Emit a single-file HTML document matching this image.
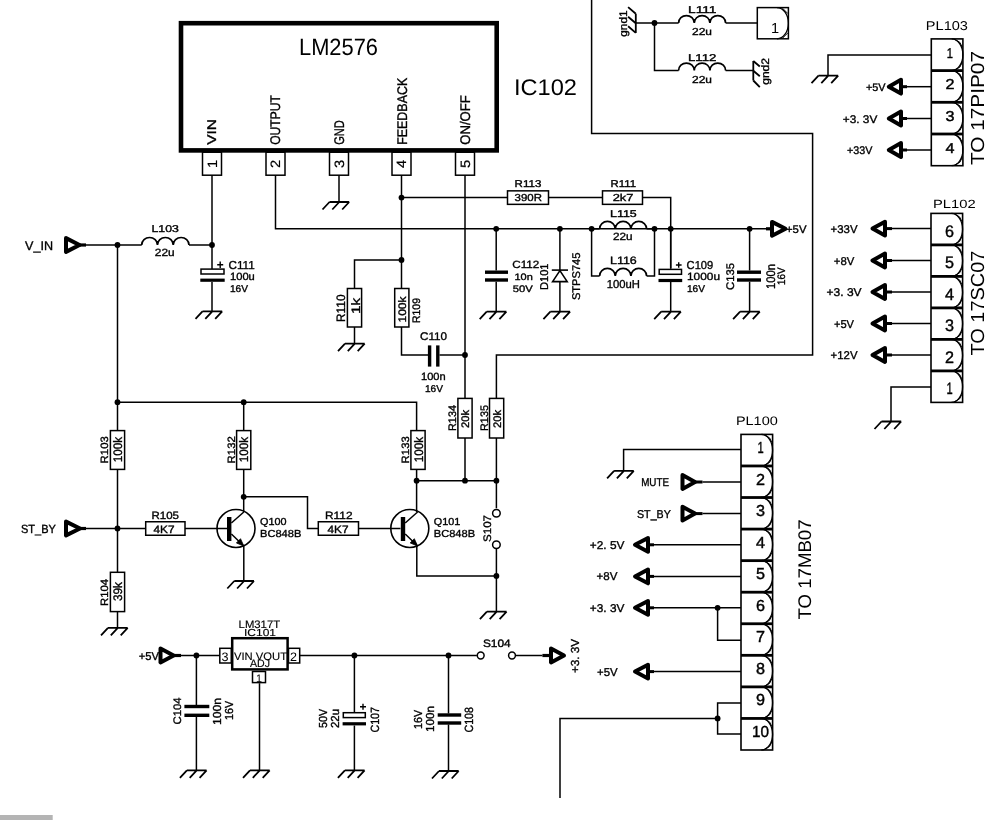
<!DOCTYPE html>
<html><head><meta charset="utf-8"><style>
html,body{margin:0;padding:0;background:#fff;}
body{width:998px;height:820px;overflow:hidden;}
svg{display:block;filter:grayscale(1);}
svg text{font-family:"Liberation Sans",sans-serif;fill:#000;text-rendering:geometricPrecision;}
</style></head><body>
<svg width="998" height="820" viewBox="0 0 998 820" stroke="#000" fill="none" stroke-linecap="butt">
<rect x="0" y="0" width="998" height="820" fill="#fff" stroke="none"/>
<rect x="181" y="23.2" width="315.7" height="127.2" stroke-width="4.6" fill="none"/>
<text x="299" y="55.1" font-size="23.55" textLength="79" lengthAdjust="spacingAndGlyphs" stroke="none" fill="#3a3a3a" text-anchor="start">LM2576</text>
<text x="514" y="94.8" font-size="22.67" textLength="63" lengthAdjust="spacingAndGlyphs" stroke="none" fill="#3a3a3a" text-anchor="start">IC102</text>
<rect x="202.5" y="152.2" width="19" height="23" stroke-width="1.5" fill="none"/>
<text transform="translate(216.8,167.9) rotate(-90)" x="0" y="0" font-size="13.52" textLength="8.2" lengthAdjust="spacingAndGlyphs" stroke="#000" stroke-width="0.2">1</text>
<rect x="266" y="152.2" width="19" height="23" stroke-width="1.5" fill="none"/>
<text transform="translate(280.3,167.9) rotate(-90)" x="0" y="0" font-size="13.52" textLength="8.2" lengthAdjust="spacingAndGlyphs" stroke="#000" stroke-width="0.2">2</text>
<rect x="329.5" y="152.2" width="19" height="23" stroke-width="1.5" fill="none"/>
<text transform="translate(343.8,167.9) rotate(-90)" x="0" y="0" font-size="13.52" textLength="8.2" lengthAdjust="spacingAndGlyphs" stroke="#000" stroke-width="0.2">3</text>
<rect x="392" y="152.2" width="19" height="23" stroke-width="1.5" fill="none"/>
<text transform="translate(406.3,167.9) rotate(-90)" x="0" y="0" font-size="13.52" textLength="8.2" lengthAdjust="spacingAndGlyphs" stroke="#000" stroke-width="0.2">4</text>
<rect x="455.5" y="152.2" width="19" height="23" stroke-width="1.5" fill="none"/>
<text transform="translate(469.8,167.9) rotate(-90)" x="0" y="0" font-size="13.52" textLength="8.2" lengthAdjust="spacingAndGlyphs" stroke="#000" stroke-width="0.2">5</text>
<text transform="translate(216.3,144.8) rotate(-90)" x="0" y="0" font-size="12.65" textLength="25.8" lengthAdjust="spacingAndGlyphs" stroke="#000" stroke-width="0.35">VIN</text>
<text transform="translate(280,144.8) rotate(-90)" x="0" y="0" font-size="13.95" textLength="49.6" lengthAdjust="spacingAndGlyphs" stroke="#000" stroke-width="0.35">OUTPUT</text>
<text transform="translate(344,144.8) rotate(-90)" x="0" y="0" font-size="13.95" textLength="24.6" lengthAdjust="spacingAndGlyphs" stroke="#000" stroke-width="0.35">GND</text>
<text transform="translate(407,144.8) rotate(-90)" x="0" y="0" font-size="13.95" textLength="67" lengthAdjust="spacingAndGlyphs" stroke="#000" stroke-width="0.35">FEEDBACK</text>
<text transform="translate(470.4,144.8) rotate(-90)" x="0" y="0" font-size="13.95" textLength="49.6" lengthAdjust="spacingAndGlyphs" stroke="#000" stroke-width="0.35">ON/OFF</text>
<line x1="212" y1="175.2" x2="212" y2="269" stroke-width="1.5"/>
<text x="25" y="249.5" font-size="12.35" textLength="28" lengthAdjust="spacingAndGlyphs" stroke="#000" stroke-width="0.35" text-anchor="start">V_IN</text>
<path d="M66,238.1 L79.5,245 L66,251.9 Z" stroke-width="4" fill="none" stroke-linejoin="round"/>
<line x1="79.5" y1="245" x2="86" y2="245" stroke-width="3.2"/>
<line x1="86" y1="245" x2="141.7" y2="245" stroke-width="1.5"/>
<circle cx="117.5" cy="245" r="2.9" fill="#000" stroke="none"/>
<path d="M141.7,245 A7.88,7.49 0 0 1 157.47,245 A7.88,7.49 0 0 1 173.23,245 A7.88,7.49 0 0 1 189,245" stroke-width="1.7" fill="none" />
<line x1="189" y1="245" x2="212" y2="245" stroke-width="1.5"/>
<circle cx="212" cy="245" r="2.9" fill="#000" stroke="none"/>
<text x="151.5" y="232" font-size="9.88" textLength="27.3" lengthAdjust="spacingAndGlyphs" stroke="#000" stroke-width="0.35" text-anchor="start">L103</text>
<text x="154.8" y="256.3" font-size="10.47" textLength="19.8" lengthAdjust="spacingAndGlyphs" stroke="#000" stroke-width="0.35" text-anchor="start">22u</text>
<rect x="201" y="269.1" width="23" height="4.9" stroke-width="1.5" fill="#fff"/>
<rect x="200.3" y="278.6" width="24.4" height="3.2" fill="#000" stroke="none"/>
<path d="M217.2,264.8 H223.2 M220.2,261.6 V268" stroke-width="1.4" fill="none" />
<line x1="212" y1="281.9" x2="212" y2="311.3" stroke-width="1.5"/>
<path d="M202.5,311.3 H222.2 M202.5,311.3 l-7,7.5 M212.3,311.3 l-7,7.5 M222.2,311.3 l-7,7.5" stroke-width="1.8" fill="none" />
<text x="228.5" y="268.7" font-size="11.48" textLength="26.3" lengthAdjust="spacingAndGlyphs" stroke="#000" stroke-width="0.35" text-anchor="start">C111</text>
<text x="230" y="280" font-size="10.47" textLength="24.8" lengthAdjust="spacingAndGlyphs" stroke="#000" stroke-width="0.35" text-anchor="start">100u</text>
<text x="230" y="292.4" font-size="9.88" textLength="18" lengthAdjust="spacingAndGlyphs" stroke="#000" stroke-width="0.35" text-anchor="start">16V</text>
<polyline points="275.5,175.2 275.5,228.8 766,228.8" stroke-width="1.5"/>
<line x1="766" y1="228.8" x2="772" y2="228.8" stroke-width="3.2"/>
<path d="M772,221.9 L785.5,228.8 L772,235.7 Z" stroke-width="4" fill="none" stroke-linejoin="round"/>
<text x="786" y="233" font-size="10.9" textLength="20.5" lengthAdjust="spacingAndGlyphs" stroke="#000" stroke-width="0.35" text-anchor="start">+5V</text>
<circle cx="496.2" cy="228.8" r="2.9" fill="#000" stroke="none"/>
<circle cx="559.9" cy="228.8" r="2.9" fill="#000" stroke="none"/>
<circle cx="591.6" cy="228.8" r="2.9" fill="#000" stroke="none"/>
<circle cx="654.5" cy="228.8" r="2.9" fill="#000" stroke="none"/>
<circle cx="670.7" cy="228.8" r="2.9" fill="#000" stroke="none"/>
<circle cx="749.6" cy="228.8" r="2.9" fill="#000" stroke="none"/>
<line x1="339" y1="175.2" x2="339" y2="202" stroke-width="1.5"/>
<path d="M329.5,202 H349.2 M329.5,202 l-7,7.5 M339.3,202 l-7,7.5 M349.2,202 l-7,7.5" stroke-width="1.8" fill="none" />
<line x1="401.5" y1="175.2" x2="401.5" y2="288.5" stroke-width="1.5"/>
<circle cx="401.5" cy="197.6" r="2.9" fill="#000" stroke="none"/>
<polyline points="401.5,197.6 507.5,197.6" stroke-width="1.5"/>
<rect x="507.5" y="190.85" width="41" height="13.5" stroke-width="1.5" fill="none"/>
<text x="514.6" y="186.5" font-size="9.88" textLength="26.7" lengthAdjust="spacingAndGlyphs" stroke="#000" stroke-width="0.35" text-anchor="start">R113</text>
<text x="514.6" y="201" font-size="10.17" textLength="27.4" lengthAdjust="spacingAndGlyphs" stroke="#000" stroke-width="0.35" text-anchor="start">390R</text>
<line x1="548.5" y1="197.6" x2="602.5" y2="197.6" stroke-width="1.5"/>
<rect x="602.5" y="190.85" width="40" height="13.5" stroke-width="1.5" fill="none"/>
<text x="610.5" y="186.5" font-size="9.88" textLength="25.5" lengthAdjust="spacingAndGlyphs" stroke="#000" stroke-width="0.35" text-anchor="start">R111</text>
<text x="612.7" y="201" font-size="10.17" textLength="20.8" lengthAdjust="spacingAndGlyphs" stroke="#000" stroke-width="0.35" text-anchor="start">2k7</text>
<polyline points="642.5,197.6 670.7,197.6 670.7,268.4" stroke-width="1.5"/>
<circle cx="401.5" cy="260" r="2.9" fill="#000" stroke="none"/>
<polyline points="401.5,260 354.5,260 354.5,288.5" stroke-width="1.5"/>
<rect x="347.4" y="288.5" width="14.2" height="38.5" stroke-width="1.5" fill="none"/>
<text transform="translate(345.2,322) rotate(-90)" x="0" y="0" font-size="12.21" textLength="27.5" lengthAdjust="spacingAndGlyphs" stroke="#000" stroke-width="0.35">R110</text>
<text transform="translate(360.2,314) rotate(-90)" x="0" y="0" font-size="12.21" textLength="16" lengthAdjust="spacingAndGlyphs" stroke="#000" stroke-width="0.35">1k</text>
<line x1="354.5" y1="327" x2="354.5" y2="343.6" stroke-width="1.5"/>
<path d="M345,343.6 H364.7 M345,343.6 l-7,7.5 M354.8,343.6 l-7,7.5 M364.7,343.6 l-7,7.5" stroke-width="1.8" fill="none" />
<rect x="394.7" y="288.5" width="14.2" height="38.5" stroke-width="1.5" fill="none"/>
<text transform="translate(405.5,322.5) rotate(-90)" x="0" y="0" font-size="10.9" textLength="26" lengthAdjust="spacingAndGlyphs" stroke="#000" stroke-width="0.35">100k</text>
<text transform="translate(420,323) rotate(-90)" x="0" y="0" font-size="10.9" textLength="25" lengthAdjust="spacingAndGlyphs" stroke="#000" stroke-width="0.35">R109</text>
<polyline points="401.5,327 401.5,355 429.6,355" stroke-width="1.5"/>
<rect x="427.9" y="345.4" width="3.4" height="21.2" fill="#000" stroke="none"/>
<rect x="436.1" y="345.4" width="3.4" height="21.2" fill="#000" stroke="none"/>
<polyline points="439.5,355 465,355" stroke-width="1.5"/>
<text x="420" y="340" font-size="11.05" textLength="27" lengthAdjust="spacingAndGlyphs" stroke="#000" stroke-width="0.35" text-anchor="start">C110</text>
<text x="421" y="380" font-size="10.47" textLength="24.6" lengthAdjust="spacingAndGlyphs" stroke="#000" stroke-width="0.35" text-anchor="start">100n</text>
<text x="425" y="392" font-size="9.88" textLength="18" lengthAdjust="spacingAndGlyphs" stroke="#000" stroke-width="0.35" text-anchor="start">16V</text>
<line x1="465" y1="175.2" x2="465" y2="398.4" stroke-width="1.5"/>
<circle cx="465" cy="355" r="2.9" fill="#000" stroke="none"/>
<rect x="457.9" y="398.4" width="14.2" height="39.6" stroke-width="1.5" fill="none"/>
<text transform="translate(469,428) rotate(-90)" x="0" y="0" font-size="10.9" textLength="18" lengthAdjust="spacingAndGlyphs" stroke="#000" stroke-width="0.35">20k</text>
<text transform="translate(456,431) rotate(-90)" x="0" y="0" font-size="10.9" textLength="26" lengthAdjust="spacingAndGlyphs" stroke="#000" stroke-width="0.35">R134</text>
<line x1="465" y1="438" x2="465" y2="480.7" stroke-width="1.5"/>
<polyline points="591.6,0 591.6,133.6 812.6,133.6 812.6,355 496.4,355 496.4,398.4" stroke-width="1.5"/>
<rect x="489.5" y="398.4" width="14.2" height="39.6" stroke-width="1.5" fill="none"/>
<text transform="translate(500.5,428) rotate(-90)" x="0" y="0" font-size="10.9" textLength="18" lengthAdjust="spacingAndGlyphs" stroke="#000" stroke-width="0.35">20k</text>
<text transform="translate(487.5,431) rotate(-90)" x="0" y="0" font-size="10.9" textLength="26" lengthAdjust="spacingAndGlyphs" stroke="#000" stroke-width="0.35">R135</text>
<line x1="496.4" y1="438" x2="496.4" y2="508.3" stroke-width="1.5"/>
<line x1="496.2" y1="228.8" x2="496.2" y2="270.5" stroke-width="1.5"/>
<line x1="496.2" y1="281.7" x2="496.2" y2="311.6" stroke-width="1.5"/>
<rect x="485" y="270.5" width="23" height="3.4" fill="#000" stroke="none"/>
<rect x="485" y="278.3" width="23" height="3.4" fill="#000" stroke="none"/>
<path d="M486.7,311.6 H506.4 M486.7,311.6 l-7,7.5 M496.5,311.6 l-7,7.5 M506.4,311.6 l-7,7.5" stroke-width="1.8" fill="none" />
<text x="512.3" y="268.4" font-size="10.47" textLength="27" lengthAdjust="spacingAndGlyphs" stroke="#000" stroke-width="0.35" text-anchor="start">C112</text>
<text x="514.5" y="280" font-size="9.3" textLength="18.3" lengthAdjust="spacingAndGlyphs" stroke="#000" stroke-width="0.35" text-anchor="start">10n</text>
<text x="512.8" y="291.7" font-size="9.59" textLength="20" lengthAdjust="spacingAndGlyphs" stroke="#000" stroke-width="0.35" text-anchor="start">50V</text>
<line x1="559.9" y1="228.8" x2="559.9" y2="311.6" stroke-width="1.5"/>
<line x1="551.8" y1="270.1" x2="568" y2="270.1" stroke-width="1.6"/>
<path d="M559.9,270.6 L552.6,281.6 L567.2,281.6 Z" stroke-width="1.6" fill="#fff" />
<path d="M550.4,311.6 H570.1 M550.4,311.6 l-7,7.5 M560.2,311.6 l-7,7.5 M570.1,311.6 l-7,7.5" stroke-width="1.8" fill="none" />
<text transform="translate(548.2,289.9) rotate(-90)" x="0" y="0" font-size="11.34" textLength="26.4" lengthAdjust="spacingAndGlyphs" stroke="#000" stroke-width="0.35">D101</text>
<text transform="translate(580,300.1) rotate(-90)" x="0" y="0" font-size="11.19" textLength="47.5" lengthAdjust="spacingAndGlyphs" stroke="#000" stroke-width="0.35">STPS745</text>
<path d="M599.6,228.8 A7.83,7.44 0 0 1 615.27,228.8 A7.83,7.44 0 0 1 630.93,228.8 A7.83,7.44 0 0 1 646.6,228.8" stroke-width="1.7" fill="none" />
<line x1="591.6" y1="228.8" x2="599.6" y2="228.8" stroke-width="1.5"/>
<line x1="646.6" y1="228.8" x2="654.5" y2="228.8" stroke-width="1.5"/>
<polyline points="591.6,228.8 591.6,275.9 599.6,275.9" stroke-width="1.5"/>
<path d="M599.6,275.9 A7.83,7.44 0 0 1 615.27,275.9 A7.83,7.44 0 0 1 630.93,275.9 A7.83,7.44 0 0 1 646.6,275.9" stroke-width="1.7" fill="none" />
<polyline points="646.6,275.9 654.5,275.9 654.5,228.8" stroke-width="1.5"/>
<text x="610" y="216.5" font-size="9.74" textLength="26.8" lengthAdjust="spacingAndGlyphs" stroke="#000" stroke-width="0.35" text-anchor="start">L115</text>
<text x="613" y="240.2" font-size="10.47" textLength="19.6" lengthAdjust="spacingAndGlyphs" stroke="#000" stroke-width="0.35" text-anchor="start">22u</text>
<text x="610" y="264" font-size="10.61" textLength="26.8" lengthAdjust="spacingAndGlyphs" stroke="#000" stroke-width="0.35" text-anchor="start">L116</text>
<text x="606.7" y="287.8" font-size="11.48" textLength="33.2" lengthAdjust="spacingAndGlyphs" stroke="#000" stroke-width="0.35" text-anchor="start">100uH</text>
<line x1="670.7" y1="228.8" x2="670.7" y2="268.7" stroke-width="1.5"/>
<rect x="659.2" y="269.4" width="22.3" height="4.9" stroke-width="1.5" fill="#fff"/>
<rect x="658.5" y="278.9" width="23.7" height="3.2" fill="#000" stroke="none"/>
<path d="M675.9,265 H681.6 M678.7,262.2 V267.8" stroke-width="1.4" fill="none" />
<line x1="670.7" y1="282" x2="670.7" y2="311.6" stroke-width="1.5"/>
<path d="M661.2,311.6 H680.9 M661.2,311.6 l-7,7.5 M671,311.6 l-7,7.5 M680.9,311.6 l-7,7.5" stroke-width="1.8" fill="none" />
<text x="686.6" y="268.7" font-size="11.48" textLength="26.6" lengthAdjust="spacingAndGlyphs" stroke="#000" stroke-width="0.35" text-anchor="start">C109</text>
<text x="687" y="280" font-size="10.47" textLength="33" lengthAdjust="spacingAndGlyphs" stroke="#000" stroke-width="0.35" text-anchor="start">1000u</text>
<text x="687" y="292" font-size="9.88" textLength="18" lengthAdjust="spacingAndGlyphs" stroke="#000" stroke-width="0.35" text-anchor="start">16V</text>
<line x1="749.6" y1="228.8" x2="749.6" y2="270.5" stroke-width="1.5"/>
<line x1="749.6" y1="281.7" x2="749.6" y2="311.6" stroke-width="1.5"/>
<rect x="737" y="270.5" width="24" height="3.4" fill="#000" stroke="none"/>
<rect x="737" y="278.3" width="24" height="3.4" fill="#000" stroke="none"/>
<path d="M740.1,311.6 H759.8 M740.1,311.6 l-7,7.5 M749.9,311.6 l-7,7.5 M759.8,311.6 l-7,7.5" stroke-width="1.8" fill="none" />
<text transform="translate(734,290) rotate(-90)" x="0" y="0" font-size="11.05" textLength="27" lengthAdjust="spacingAndGlyphs" stroke="#000" stroke-width="0.35">C135</text>
<text transform="translate(775.2,289) rotate(-90)" x="0" y="0" font-size="12.5" textLength="25" lengthAdjust="spacingAndGlyphs" stroke="#000" stroke-width="0.35">100n</text>
<text transform="translate(785.2,285) rotate(-90)" x="0" y="0" font-size="10.9" textLength="17.5" lengthAdjust="spacingAndGlyphs" stroke="#000" stroke-width="0.35">16V</text>
<line x1="635.8" y1="13.7" x2="635.8" y2="32.9" stroke-width="1.8"/>
<path d="M635.8,13.7 l-7.7,-6.6 M635.8,23.3 l-7.7,-6.6 M635.8,32.9 l-7.7,-6.6" stroke-width="1.8" fill="none" />
<text transform="translate(626.5,36.8) rotate(-90)" x="0" y="0" font-size="10.9" textLength="26.4" lengthAdjust="spacingAndGlyphs" stroke="#000" stroke-width="0.35">gnd1</text>
<polyline points="635.8,23 678.6,23" stroke-width="1.5"/>
<circle cx="654.5" cy="23" r="2.9" fill="#000" stroke="none"/>
<path d="M678.6,23 A7.83,7.44 0 0 1 694.27,23 A7.83,7.44 0 0 1 709.93,23 A7.83,7.44 0 0 1 725.6,23" stroke-width="1.7" fill="none" />
<polyline points="725.6,23 757.3,23" stroke-width="1.5"/>
<text x="688" y="13" font-size="9.88" textLength="28.5" lengthAdjust="spacingAndGlyphs" stroke="#000" stroke-width="0.35" text-anchor="start">L111</text>
<text x="692" y="35" font-size="10.17" textLength="20" lengthAdjust="spacingAndGlyphs" stroke="#000" stroke-width="0.35" text-anchor="start">22u</text>
<polyline points="654.5,23 654.5,70.5 678.6,70.5" stroke-width="1.5"/>
<path d="M678.6,70.5 A7.83,7.44 0 0 1 694.27,70.5 A7.83,7.44 0 0 1 709.93,70.5 A7.83,7.44 0 0 1 725.6,70.5" stroke-width="1.7" fill="none" />
<polyline points="725.6,70.5 753.3,70.5" stroke-width="1.5"/>
<text x="688" y="60.5" font-size="9.88" textLength="28.5" lengthAdjust="spacingAndGlyphs" stroke="#000" stroke-width="0.35" text-anchor="start">L112</text>
<text x="692" y="82.5" font-size="10.17" textLength="20" lengthAdjust="spacingAndGlyphs" stroke="#000" stroke-width="0.35" text-anchor="start">22u</text>
<line x1="753.3" y1="61" x2="753.3" y2="80.5" stroke-width="1.8"/>
<path d="M753.3,61 l6.5,5.5 M753.3,70.7 l6.5,5.5 M753.3,80.5 l6.5,6.7" stroke-width="1.8" fill="none" />
<text transform="translate(768.6,84.8) rotate(-90)" x="0" y="0" font-size="10.9" textLength="26.8" lengthAdjust="spacingAndGlyphs" stroke="#000" stroke-width="0.35">gnd2</text>
<rect x="757.3" y="7.6" width="31.1" height="31.2" stroke-width="1.5" fill="none"/>
<path d="M777,7.6 A11.4,15.6 0 0 1 777,38.8" stroke-width="1.3" fill="none" />
<path d="M782.5,8.2 L787.8,13.5 M782.5,38.2 L787.8,32.9" stroke-width="1" fill="none" />
<text x="775" y="32.7" font-size="14.6" text-anchor="middle" stroke="none">1</text>
<rect x="931.3" y="38.9" width="31.6" height="126.8" stroke-width="1.6" fill="none"/>
<line x1="931.3" y1="70.6" x2="962.9" y2="70.6" stroke-width="2.8"/>
<line x1="931.3" y1="102.3" x2="962.9" y2="102.3" stroke-width="2.8"/>
<line x1="931.3" y1="134" x2="962.9" y2="134" stroke-width="2.8"/>
<path d="M951.7,38.9 A11.2,15.85 0 0 1 951.7,70.6" stroke-width="1.3" fill="none" />
<path d="M954.9,39.7 L959.9,42.4 L962.1,46.9 M954.9,69.8 L959.9,67.1 L962.1,62.6" stroke-width="1" fill="none" />
<text x="946.8" y="57.55" font-size="14.24" textLength="6.2" lengthAdjust="spacingAndGlyphs" stroke="#000" stroke-width="0.4">1</text>
<path d="M951.7,70.6 A11.2,15.85 0 0 1 951.7,102.3" stroke-width="1.3" fill="none" />
<path d="M954.9,71.4 L959.9,74.1 L962.1,78.6 M954.9,101.5 L959.9,98.8 L962.1,94.3" stroke-width="1" fill="none" />
<text x="945.4" y="89.25" font-size="14.24" textLength="9" lengthAdjust="spacingAndGlyphs" stroke="#000" stroke-width="0.4">2</text>
<path d="M951.7,102.3 A11.2,15.85 0 0 1 951.7,134" stroke-width="1.3" fill="none" />
<path d="M954.9,103.1 L959.9,105.8 L962.1,110.3 M954.9,133.2 L959.9,130.5 L962.1,126" stroke-width="1" fill="none" />
<text x="945.4" y="120.95" font-size="14.24" textLength="9" lengthAdjust="spacingAndGlyphs" stroke="#000" stroke-width="0.4">3</text>
<path d="M951.7,134 A11.2,15.85 0 0 1 951.7,165.7" stroke-width="1.3" fill="none" />
<path d="M954.9,134.8 L959.9,137.5 L962.1,142 M954.9,164.9 L959.9,162.2 L962.1,157.7" stroke-width="1" fill="none" />
<text x="945.4" y="152.65" font-size="14.24" textLength="9" lengthAdjust="spacingAndGlyphs" stroke="#000" stroke-width="0.4">4</text>
<text x="925.8" y="29.6" font-size="12.79" textLength="42.2" lengthAdjust="spacingAndGlyphs" stroke="none" text-anchor="start">PL103</text>
<text transform="translate(984,165) rotate(-90)" x="0" y="0" font-size="18.9" textLength="114" lengthAdjust="spacingAndGlyphs" stroke="none" fill="#444">TO 17PIP07</text>
<polyline points="931.3,54.9 828,54.9 828,75.7" stroke-width="1.5"/>
<path d="M818.5,75.7 H838.2 M818.5,75.7 l-7,7.5 M828.3,75.7 l-7,7.5 M838.2,75.7 l-7,7.5" stroke-width="1.8" fill="none" />
<path d="M901,79.8 L888.8,86.7 L901,93.6 Z" stroke-width="4" fill="none" stroke-linejoin="round"/>
<line x1="901" y1="86.7" x2="907" y2="86.7" stroke-width="3"/>
<line x1="907" y1="86.7" x2="931.3" y2="86.7" stroke-width="1.5"/>
<text x="866" y="90.7" font-size="11.05" textLength="19.6" lengthAdjust="spacingAndGlyphs" stroke="#000" stroke-width="0.35" text-anchor="start">+5V</text>
<path d="M901,111.6 L888.8,118.5 L901,125.4 Z" stroke-width="4" fill="none" stroke-linejoin="round"/>
<line x1="901" y1="118.5" x2="907" y2="118.5" stroke-width="3"/>
<line x1="907" y1="118.5" x2="931.3" y2="118.5" stroke-width="1.5"/>
<text x="842.8" y="122.5" font-size="11.05" textLength="34.5" lengthAdjust="spacingAndGlyphs" stroke="#000" stroke-width="0.35" text-anchor="start">+3. 3V</text>
<path d="M901,143.1 L888.8,150 L901,156.9 Z" stroke-width="4" fill="none" stroke-linejoin="round"/>
<line x1="901" y1="150" x2="907" y2="150" stroke-width="3"/>
<line x1="907" y1="150" x2="931.3" y2="150" stroke-width="1.5"/>
<text x="847" y="154" font-size="11.05" textLength="25.4" lengthAdjust="spacingAndGlyphs" stroke="#000" stroke-width="0.35" text-anchor="start">+33V</text>
<rect x="931" y="213.4" width="31.6" height="189" stroke-width="1.6" fill="none"/>
<line x1="931" y1="244.9" x2="962.6" y2="244.9" stroke-width="2.8"/>
<line x1="931" y1="276.4" x2="962.6" y2="276.4" stroke-width="2.8"/>
<line x1="931" y1="307.9" x2="962.6" y2="307.9" stroke-width="2.8"/>
<line x1="931" y1="339.4" x2="962.6" y2="339.4" stroke-width="2.8"/>
<line x1="931" y1="370.9" x2="962.6" y2="370.9" stroke-width="2.8"/>
<path d="M951.4,213.4 A11.2,15.75 0 0 1 951.4,244.9" stroke-width="1.3" fill="none" />
<path d="M954.6,214.2 L959.6,216.9 L961.8,221.4 M954.6,244.1 L959.6,241.4 L961.8,236.9" stroke-width="1" fill="none" />
<text x="945.1" y="236.95" font-size="16.57" textLength="9" lengthAdjust="spacingAndGlyphs" stroke="#000" stroke-width="0.4">6</text>
<path d="M951.4,244.9 A11.2,15.75 0 0 1 951.4,276.4" stroke-width="1.3" fill="none" />
<path d="M954.6,245.7 L959.6,248.4 L961.8,252.9 M954.6,275.6 L959.6,272.9 L961.8,268.4" stroke-width="1" fill="none" />
<text x="945.1" y="268.45" font-size="16.57" textLength="9" lengthAdjust="spacingAndGlyphs" stroke="#000" stroke-width="0.4">5</text>
<path d="M951.4,276.4 A11.2,15.75 0 0 1 951.4,307.9" stroke-width="1.3" fill="none" />
<path d="M954.6,277.2 L959.6,279.9 L961.8,284.4 M954.6,307.1 L959.6,304.4 L961.8,299.9" stroke-width="1" fill="none" />
<text x="945.1" y="299.95" font-size="16.57" textLength="9" lengthAdjust="spacingAndGlyphs" stroke="#000" stroke-width="0.4">4</text>
<path d="M951.4,307.9 A11.2,15.75 0 0 1 951.4,339.4" stroke-width="1.3" fill="none" />
<path d="M954.6,308.7 L959.6,311.4 L961.8,315.9 M954.6,338.6 L959.6,335.9 L961.8,331.4" stroke-width="1" fill="none" />
<text x="945.1" y="331.45" font-size="16.57" textLength="9" lengthAdjust="spacingAndGlyphs" stroke="#000" stroke-width="0.4">3</text>
<path d="M951.4,339.4 A11.2,15.75 0 0 1 951.4,370.9" stroke-width="1.3" fill="none" />
<path d="M954.6,340.2 L959.6,342.9 L961.8,347.4 M954.6,370.1 L959.6,367.4 L961.8,362.9" stroke-width="1" fill="none" />
<text x="945.1" y="362.95" font-size="16.57" textLength="9" lengthAdjust="spacingAndGlyphs" stroke="#000" stroke-width="0.4">2</text>
<path d="M951.4,370.9 A11.2,15.75 0 0 1 951.4,402.4" stroke-width="1.3" fill="none" />
<path d="M954.6,371.7 L959.6,374.4 L961.8,378.9 M954.6,401.6 L959.6,398.9 L961.8,394.4" stroke-width="1" fill="none" />
<text x="946.5" y="394.45" font-size="16.57" textLength="6.2" lengthAdjust="spacingAndGlyphs" stroke="#000" stroke-width="0.4">1</text>
<text x="933" y="208.1" font-size="11.92" textLength="42.7" lengthAdjust="spacingAndGlyphs" stroke="none" text-anchor="start">PL102</text>
<text transform="translate(984.2,355.6) rotate(-90)" x="0" y="0" font-size="18.9" textLength="105" lengthAdjust="spacingAndGlyphs" stroke="none" fill="#444">TO 17SC07</text>
<path d="M885,221.7 L872.5,228.6 L885,235.5 Z" stroke-width="4" fill="none" stroke-linejoin="round"/>
<line x1="885" y1="228.6" x2="892" y2="228.6" stroke-width="3"/>
<line x1="892" y1="228.6" x2="931" y2="228.6" stroke-width="1.5"/>
<text x="830.6" y="232.6" font-size="11.34" textLength="26.9" lengthAdjust="spacingAndGlyphs" stroke="#000" stroke-width="0.35" text-anchor="start">+33V</text>
<path d="M885,253.6 L872.5,260.5 L885,267.4 Z" stroke-width="4" fill="none" stroke-linejoin="round"/>
<line x1="885" y1="260.5" x2="892" y2="260.5" stroke-width="3"/>
<line x1="892" y1="260.5" x2="931" y2="260.5" stroke-width="1.5"/>
<text x="833.8" y="264.5" font-size="11.34" textLength="20.5" lengthAdjust="spacingAndGlyphs" stroke="#000" stroke-width="0.35" text-anchor="start">+8V</text>
<path d="M885,285.1 L872.5,292 L885,298.9 Z" stroke-width="4" fill="none" stroke-linejoin="round"/>
<line x1="885" y1="292" x2="892" y2="292" stroke-width="3"/>
<line x1="892" y1="292" x2="931" y2="292" stroke-width="1.5"/>
<text x="826.5" y="296" font-size="11.34" textLength="35.1" lengthAdjust="spacingAndGlyphs" stroke="#000" stroke-width="0.35" text-anchor="start">+3. 3V</text>
<path d="M885,316.6 L872.5,323.5 L885,330.4 Z" stroke-width="4" fill="none" stroke-linejoin="round"/>
<line x1="885" y1="323.5" x2="892" y2="323.5" stroke-width="3"/>
<line x1="892" y1="323.5" x2="931" y2="323.5" stroke-width="1.5"/>
<text x="834" y="327.5" font-size="11.34" textLength="20" lengthAdjust="spacingAndGlyphs" stroke="#000" stroke-width="0.35" text-anchor="start">+5V</text>
<path d="M885,348.1 L872.5,355 L885,361.9 Z" stroke-width="4" fill="none" stroke-linejoin="round"/>
<line x1="885" y1="355" x2="892" y2="355" stroke-width="3"/>
<line x1="892" y1="355" x2="931" y2="355" stroke-width="1.5"/>
<text x="830.6" y="359" font-size="11.34" textLength="26.9" lengthAdjust="spacingAndGlyphs" stroke="#000" stroke-width="0.35" text-anchor="start">+12V</text>
<polyline points="931,387 891,387 891,421.5" stroke-width="1.5"/>
<path d="M881.5,421.5 H901.2 M881.5,421.5 l-7,7.5 M891.3,421.5 l-7,7.5 M901.2,421.5 l-7,7.5" stroke-width="1.8" fill="none" />
<line x1="117.5" y1="245" x2="117.5" y2="430.6" stroke-width="1.5"/>
<circle cx="117.5" cy="402.2" r="2.9" fill="#000" stroke="none"/>
<rect x="110.4" y="430.6" width="14.2" height="38.8" stroke-width="1.5" fill="none"/>
<text transform="translate(107.5,463.4) rotate(-90)" x="0" y="0" font-size="10.61" textLength="27.2" lengthAdjust="spacingAndGlyphs" stroke="#000" stroke-width="0.35">R103</text>
<text transform="translate(121.5,462.2) rotate(-90)" x="0" y="0" font-size="12.35" textLength="25.2" lengthAdjust="spacingAndGlyphs" stroke="#000" stroke-width="0.35">100k</text>
<line x1="117.5" y1="469.4" x2="117.5" y2="572.3" stroke-width="1.5"/>
<circle cx="117.5" cy="528.5" r="2.9" fill="#000" stroke="none"/>
<path d="M66,521.6 L80,528.5 L66,535.4 Z" stroke-width="4" fill="none" stroke-linejoin="round"/>
<line x1="80" y1="528.5" x2="86" y2="528.5" stroke-width="3.2"/>
<line x1="86" y1="528.5" x2="145.7" y2="528.5" stroke-width="1.5"/>
<text x="21" y="532.8" font-size="11.92" textLength="34.8" lengthAdjust="spacingAndGlyphs" stroke="#000" stroke-width="0.35" text-anchor="start">ST_BY</text>
<rect x="145.7" y="521.75" width="39.3" height="13.5" stroke-width="1.5" fill="none"/>
<text x="151.5" y="519" font-size="10.47" textLength="27.5" lengthAdjust="spacingAndGlyphs" stroke="#000" stroke-width="0.35" text-anchor="start">R105</text>
<text x="153.5" y="533" font-size="10.47" textLength="21" lengthAdjust="spacingAndGlyphs" stroke="#000" stroke-width="0.35" text-anchor="start">4K7</text>
<line x1="185" y1="528.5" x2="227" y2="528.5" stroke-width="1.5"/>
<rect x="110.4" y="572.3" width="14.2" height="39.3" stroke-width="1.5" fill="none"/>
<text transform="translate(107.5,606) rotate(-90)" x="0" y="0" font-size="10.61" textLength="27.2" lengthAdjust="spacingAndGlyphs" stroke="#000" stroke-width="0.35">R104</text>
<text transform="translate(121.5,601) rotate(-90)" x="0" y="0" font-size="12.35" textLength="19" lengthAdjust="spacingAndGlyphs" stroke="#000" stroke-width="0.35">39k</text>
<line x1="117.5" y1="611.6" x2="117.5" y2="627.8" stroke-width="1.5"/>
<path d="M108,627.8 H127.7 M108,627.8 l-7,7.5 M117.8,627.8 l-7,7.5 M127.7,627.8 l-7,7.5" stroke-width="1.8" fill="none" />
<polyline points="117.5,402.2 416.6,402.2 416.6,430.6" stroke-width="1.5"/>
<circle cx="243.7" cy="402.2" r="2.9" fill="#000" stroke="none"/>
<line x1="243.7" y1="402.2" x2="243.7" y2="430.6" stroke-width="1.5"/>
<rect x="236.6" y="430.6" width="14.2" height="38.8" stroke-width="1.5" fill="none"/>
<text transform="translate(234.8,463.4) rotate(-90)" x="0" y="0" font-size="10.61" textLength="27.2" lengthAdjust="spacingAndGlyphs" stroke="#000" stroke-width="0.35">R132</text>
<text transform="translate(248.3,462.2) rotate(-90)" x="0" y="0" font-size="12.35" textLength="25.2" lengthAdjust="spacingAndGlyphs" stroke="#000" stroke-width="0.35">100k</text>
<line x1="243.7" y1="469.4" x2="243.7" y2="512" stroke-width="1.5"/>
<circle cx="243.7" cy="496.8" r="2.9" fill="#000" stroke="none"/>
<rect x="410.9" y="430.6" width="14.2" height="38.8" stroke-width="1.5" fill="none"/>
<text transform="translate(408.8,463.4) rotate(-90)" x="0" y="0" font-size="10.61" textLength="27.2" lengthAdjust="spacingAndGlyphs" stroke="#000" stroke-width="0.35">R133</text>
<text transform="translate(422.5,462.2) rotate(-90)" x="0" y="0" font-size="12.35" textLength="25.2" lengthAdjust="spacingAndGlyphs" stroke="#000" stroke-width="0.35">100k</text>
<line x1="416.6" y1="469.4" x2="416.6" y2="512" stroke-width="1.5"/>
<circle cx="416.6" cy="480.7" r="2.9" fill="#000" stroke="none"/>
<circle cx="236" cy="528.5" r="19" stroke-width="1.6" fill="none"/>
<rect x="227" y="517" width="4.4" height="24" fill="#000" stroke="none"/>
<line x1="231.4" y1="523" x2="243.8" y2="512" stroke-width="1.5"/>
<line x1="231.4" y1="534" x2="243.8" y2="546" stroke-width="1.5"/>
<path d="M243.8,546 L240.52,538.7 L236.4,542.97 Z" stroke-width="0.8" fill="#000" />
<line x1="243.8" y1="546" x2="243.8" y2="581" stroke-width="1.5"/>
<path d="M234.3,581 H254 M234.3,581 l-7,7.5 M244.1,581 l-7,7.5 M254,581 l-7,7.5" stroke-width="1.8" fill="none" />
<text x="260" y="524.5" font-size="10.17" textLength="26.5" lengthAdjust="spacingAndGlyphs" stroke="#000" stroke-width="0.35" text-anchor="start">Q100</text>
<text x="260" y="537" font-size="10.17" textLength="41.3" lengthAdjust="spacingAndGlyphs" stroke="#000" stroke-width="0.35" text-anchor="start">BC848B</text>
<polyline points="243.7,496.8 307.5,496.8 307.5,528.5 318.3,528.5" stroke-width="1.5"/>
<rect x="318.3" y="521.75" width="40.2" height="13.5" stroke-width="1.5" fill="none"/>
<text x="325" y="519" font-size="10.47" textLength="27.5" lengthAdjust="spacingAndGlyphs" stroke="#000" stroke-width="0.35" text-anchor="start">R112</text>
<text x="327.5" y="533" font-size="10.47" textLength="21" lengthAdjust="spacingAndGlyphs" stroke="#000" stroke-width="0.35" text-anchor="start">4K7</text>
<line x1="358.5" y1="528.5" x2="400.5" y2="528.5" stroke-width="1.5"/>
<circle cx="409.8" cy="528.5" r="19" stroke-width="1.6" fill="none"/>
<rect x="400.8" y="517" width="4.4" height="24" fill="#000" stroke="none"/>
<line x1="405.2" y1="523" x2="417.6" y2="512" stroke-width="1.5"/>
<line x1="405.2" y1="534" x2="417.6" y2="546" stroke-width="1.5"/>
<path d="M417.6,546 L414.32,538.7 L410.2,542.97 Z" stroke-width="0.8" fill="#000" />
<polyline points="416.8,546 416.8,575.9 496.4,575.9" stroke-width="1.5"/>
<text x="433.8" y="524.5" font-size="10.17" textLength="26.5" lengthAdjust="spacingAndGlyphs" stroke="#000" stroke-width="0.35" text-anchor="start">Q101</text>
<text x="433.8" y="537" font-size="10.17" textLength="41.3" lengthAdjust="spacingAndGlyphs" stroke="#000" stroke-width="0.35" text-anchor="start">BC848B</text>
<polyline points="416.6,480.7 496.4,480.7" stroke-width="1.5"/>
<circle cx="465" cy="480.7" r="2.9" fill="#000" stroke="none"/>
<circle cx="496.4" cy="480.7" r="2.9" fill="#000" stroke="none"/>
<circle cx="496.4" cy="513.3" r="3.8" stroke-width="1.5" fill="#fff"/>
<circle cx="496.4" cy="544.8" r="3.8" stroke-width="1.5" fill="#fff"/>
<line x1="496.4" y1="548.6" x2="496.4" y2="611.7" stroke-width="1.5"/>
<circle cx="496.4" cy="575.9" r="2.9" fill="#000" stroke="none"/>
<path d="M486.9,611.7 H506.6 M486.9,611.7 l-7,7.5 M496.7,611.7 l-7,7.5 M506.6,611.7 l-7,7.5" stroke-width="1.8" fill="none" />
<text transform="translate(491,542) rotate(-90)" x="0" y="0" font-size="10.9" textLength="27" lengthAdjust="spacingAndGlyphs" stroke="#000" stroke-width="0.35">S107</text>
<text x="138.8" y="659.5" font-size="11.34" textLength="20.2" lengthAdjust="spacingAndGlyphs" stroke="#000" stroke-width="0.35" text-anchor="start">+5V</text>
<path d="M160.5,648.6 L173.6,655.5 L160.5,662.4 Z" stroke-width="4" fill="none" stroke-linejoin="round"/>
<line x1="173.6" y1="655.5" x2="181" y2="655.5" stroke-width="3.2"/>
<polyline points="181,655.5 219.8,655.5" stroke-width="1.5"/>
<circle cx="196.4" cy="655.5" r="2.9" fill="#000" stroke="none"/>
<rect x="232.2" y="638.2" width="55.4" height="31.2" stroke-width="2.5" fill="none"/>
<rect x="219.8" y="648.3" width="11.5" height="14.7" stroke-width="1.5" fill="none"/>
<rect x="288.5" y="648.3" width="11.2" height="14.7" stroke-width="1.5" fill="none"/>
<rect x="252.5" y="671.5" width="13" height="11.1" stroke-width="1.5" fill="none"/>
<text x="221.5" y="660.5" font-size="12.35" textLength="7" lengthAdjust="spacingAndGlyphs" stroke="none" text-anchor="start">3</text>
<text x="290" y="660.5" font-size="12.35" textLength="7" lengthAdjust="spacingAndGlyphs" stroke="none" text-anchor="start">2</text>
<text x="256" y="681.5" font-size="10.9" textLength="6" lengthAdjust="spacingAndGlyphs" stroke="none" text-anchor="start">1</text>
<text x="234" y="659.5" font-size="10.9" textLength="53" lengthAdjust="spacingAndGlyphs" stroke="#000" stroke-width="0.15" text-anchor="start">VIN VOUT</text>
<text x="250" y="667" font-size="10.9" textLength="20" lengthAdjust="spacingAndGlyphs" stroke="#000" stroke-width="0.15" text-anchor="start">ADJ</text>
<text x="238.6" y="628" font-size="10.9" textLength="41.5" lengthAdjust="spacingAndGlyphs" stroke="#000" stroke-width="0.15" text-anchor="start">LM317T</text>
<text x="244" y="636" font-size="10.17" textLength="32" lengthAdjust="spacingAndGlyphs" stroke="#000" stroke-width="0.15" text-anchor="start">IC101</text>
<line x1="259.5" y1="683.2" x2="259.5" y2="770.3" stroke-width="1.5"/>
<path d="M250,770.3 H269.7 M250,770.3 l-7,7.5 M259.8,770.3 l-7,7.5 M269.7,770.3 l-7,7.5" stroke-width="1.8" fill="none" />
<line x1="196.4" y1="655.5" x2="196.4" y2="705" stroke-width="1.5"/>
<line x1="196.4" y1="717" x2="196.4" y2="770.3" stroke-width="1.5"/>
<rect x="184.4" y="704.8" width="24.9" height="3.4" fill="#000" stroke="none"/>
<rect x="184.4" y="713.6" width="24.9" height="3.4" fill="#000" stroke="none"/>
<path d="M186.9,770.3 H206.6 M186.9,770.3 l-7,7.5 M196.7,770.3 l-7,7.5 M206.6,770.3 l-7,7.5" stroke-width="1.8" fill="none" />
<text transform="translate(180.5,724.5) rotate(-90)" x="0" y="0" font-size="10.9" textLength="27" lengthAdjust="spacingAndGlyphs" stroke="#000" stroke-width="0.35">C104</text>
<text transform="translate(221,725) rotate(-90)" x="0" y="0" font-size="11.63" textLength="27" lengthAdjust="spacingAndGlyphs" stroke="#000" stroke-width="0.35">100n</text>
<text transform="translate(232.5,720) rotate(-90)" x="0" y="0" font-size="11.63" textLength="19" lengthAdjust="spacingAndGlyphs" stroke="#000" stroke-width="0.35">16V</text>
<polyline points="299.7,655.5 476.9,655.5" stroke-width="1.5"/>
<circle cx="354.4" cy="655.5" r="2.9" fill="#000" stroke="none"/>
<circle cx="448.5" cy="655.5" r="2.9" fill="#000" stroke="none"/>
<line x1="354.4" y1="655.5" x2="354.4" y2="712.5" stroke-width="1.5"/>
<line x1="354.4" y1="725.5" x2="354.4" y2="770.3" stroke-width="1.5"/>
<rect x="343.3" y="712.7" width="22" height="4.9" stroke-width="1.5" fill="#fff"/>
<rect x="342.6" y="722.2" width="23.4" height="3.2" fill="#000" stroke="none"/>
<path d="M360,706.8 H366 M363,703.8 V709.8" stroke-width="1.4" fill="none" />
<path d="M344.9,770.3 H364.6 M344.9,770.3 l-7,7.5 M354.7,770.3 l-7,7.5 M364.6,770.3 l-7,7.5" stroke-width="1.8" fill="none" />
<text transform="translate(327,728) rotate(-90)" x="0" y="0" font-size="11.63" textLength="19" lengthAdjust="spacingAndGlyphs" stroke="#000" stroke-width="0.35">50V</text>
<text transform="translate(339,728) rotate(-90)" x="0" y="0" font-size="11.63" textLength="19" lengthAdjust="spacingAndGlyphs" stroke="#000" stroke-width="0.35">22u</text>
<text transform="translate(378.5,732.6) rotate(-90)" x="0" y="0" font-size="11.92" textLength="25.6" lengthAdjust="spacingAndGlyphs" stroke="#000" stroke-width="0.35">C107</text>
<line x1="448.5" y1="655.5" x2="448.5" y2="713.5" stroke-width="1.5"/>
<line x1="448.5" y1="724.5" x2="448.5" y2="771" stroke-width="1.5"/>
<rect x="437.7" y="713.3" width="23.5" height="3.4" fill="#000" stroke="none"/>
<rect x="437.7" y="721.3" width="23.5" height="3.4" fill="#000" stroke="none"/>
<path d="M439,771 H458.7 M439,771 l-7,7.5 M448.8,771 l-7,7.5 M458.7,771 l-7,7.5" stroke-width="1.8" fill="none" />
<text transform="translate(421.5,729) rotate(-90)" x="0" y="0" font-size="11.63" textLength="19" lengthAdjust="spacingAndGlyphs" stroke="#000" stroke-width="0.35">16V</text>
<text transform="translate(433.5,732) rotate(-90)" x="0" y="0" font-size="11.63" textLength="26" lengthAdjust="spacingAndGlyphs" stroke="#000" stroke-width="0.35">100n</text>
<text transform="translate(473.3,732.6) rotate(-90)" x="0" y="0" font-size="11.92" textLength="25.6" lengthAdjust="spacingAndGlyphs" stroke="#000" stroke-width="0.35">C108</text>
<circle cx="480.7" cy="655.5" r="3.4" stroke-width="1.5" fill="#fff"/>
<circle cx="512" cy="655.5" r="3.4" stroke-width="1.5" fill="#fff"/>
<line x1="515.4" y1="655.5" x2="542.4" y2="655.5" stroke-width="1.5"/>
<line x1="542.4" y1="655.5" x2="550.5" y2="655.5" stroke-width="3.2"/>
<path d="M551,648.6 L564,655.5 L551,662.4 Z" stroke-width="4" fill="none" stroke-linejoin="round"/>
<text x="482.9" y="647" font-size="10.76" textLength="27.8" lengthAdjust="spacingAndGlyphs" stroke="#000" stroke-width="0.35" text-anchor="start">S104</text>
<text transform="translate(579,673) rotate(-90)" x="0" y="0" font-size="11.63" textLength="34" lengthAdjust="spacingAndGlyphs" stroke="#000" stroke-width="0.35">+3. 3V</text>
<rect x="741" y="434.4" width="31.6" height="315.6" stroke-width="1.6" fill="none"/>
<line x1="741" y1="465.96" x2="772.6" y2="465.96" stroke-width="2.8"/>
<line x1="741" y1="497.52" x2="772.6" y2="497.52" stroke-width="2.8"/>
<line x1="741" y1="529.08" x2="772.6" y2="529.08" stroke-width="2.8"/>
<line x1="741" y1="560.64" x2="772.6" y2="560.64" stroke-width="2.8"/>
<line x1="741" y1="592.2" x2="772.6" y2="592.2" stroke-width="2.8"/>
<line x1="741" y1="623.76" x2="772.6" y2="623.76" stroke-width="2.8"/>
<line x1="741" y1="655.32" x2="772.6" y2="655.32" stroke-width="2.8"/>
<line x1="741" y1="686.88" x2="772.6" y2="686.88" stroke-width="2.8"/>
<line x1="741" y1="718.44" x2="772.6" y2="718.44" stroke-width="2.8"/>
<path d="M761.4,434.4 A11.2,15.78 0 0 1 761.4,465.96" stroke-width="1.3" fill="none" />
<path d="M764.6,435.2 L769.6,437.9 L771.8,442.4 M764.6,465.16 L769.6,462.46 L771.8,457.96" stroke-width="1" fill="none" />
<text x="757.5" y="452.98" font-size="15.99" textLength="6.2" lengthAdjust="spacingAndGlyphs" stroke="#000" stroke-width="0.4">1</text>
<path d="M761.4,465.96 A11.2,15.78 0 0 1 761.4,497.52" stroke-width="1.3" fill="none" />
<path d="M764.6,466.76 L769.6,469.46 L771.8,473.96 M764.6,496.72 L769.6,494.02 L771.8,489.52" stroke-width="1" fill="none" />
<text x="756.1" y="484.54" font-size="15.99" textLength="9" lengthAdjust="spacingAndGlyphs" stroke="#000" stroke-width="0.4">2</text>
<path d="M761.4,497.52 A11.2,15.78 0 0 1 761.4,529.08" stroke-width="1.3" fill="none" />
<path d="M764.6,498.32 L769.6,501.02 L771.8,505.52 M764.6,528.28 L769.6,525.58 L771.8,521.08" stroke-width="1" fill="none" />
<text x="756.1" y="516.1" font-size="15.99" textLength="9" lengthAdjust="spacingAndGlyphs" stroke="#000" stroke-width="0.4">3</text>
<path d="M761.4,529.08 A11.2,15.78 0 0 1 761.4,560.64" stroke-width="1.3" fill="none" />
<path d="M764.6,529.88 L769.6,532.58 L771.8,537.08 M764.6,559.84 L769.6,557.14 L771.8,552.64" stroke-width="1" fill="none" />
<text x="756.1" y="547.66" font-size="15.99" textLength="9" lengthAdjust="spacingAndGlyphs" stroke="#000" stroke-width="0.4">4</text>
<path d="M761.4,560.64 A11.2,15.78 0 0 1 761.4,592.2" stroke-width="1.3" fill="none" />
<path d="M764.6,561.44 L769.6,564.14 L771.8,568.64 M764.6,591.4 L769.6,588.7 L771.8,584.2" stroke-width="1" fill="none" />
<text x="756.1" y="579.22" font-size="15.99" textLength="9" lengthAdjust="spacingAndGlyphs" stroke="#000" stroke-width="0.4">5</text>
<path d="M761.4,592.2 A11.2,15.78 0 0 1 761.4,623.76" stroke-width="1.3" fill="none" />
<path d="M764.6,593 L769.6,595.7 L771.8,600.2 M764.6,622.96 L769.6,620.26 L771.8,615.76" stroke-width="1" fill="none" />
<text x="756.1" y="610.78" font-size="15.99" textLength="9" lengthAdjust="spacingAndGlyphs" stroke="#000" stroke-width="0.4">6</text>
<path d="M761.4,623.76 A11.2,15.78 0 0 1 761.4,655.32" stroke-width="1.3" fill="none" />
<path d="M764.6,624.56 L769.6,627.26 L771.8,631.76 M764.6,654.52 L769.6,651.82 L771.8,647.32" stroke-width="1" fill="none" />
<text x="756.1" y="642.34" font-size="15.99" textLength="9" lengthAdjust="spacingAndGlyphs" stroke="#000" stroke-width="0.4">7</text>
<path d="M761.4,655.32 A11.2,15.78 0 0 1 761.4,686.88" stroke-width="1.3" fill="none" />
<path d="M764.6,656.12 L769.6,658.82 L771.8,663.32 M764.6,686.08 L769.6,683.38 L771.8,678.88" stroke-width="1" fill="none" />
<text x="756.1" y="673.9" font-size="15.99" textLength="9" lengthAdjust="spacingAndGlyphs" stroke="#000" stroke-width="0.4">8</text>
<path d="M761.4,686.88 A11.2,15.78 0 0 1 761.4,718.44" stroke-width="1.3" fill="none" />
<path d="M764.6,687.68 L769.6,690.38 L771.8,694.88 M764.6,717.64 L769.6,714.94 L771.8,710.44" stroke-width="1" fill="none" />
<text x="756.1" y="705.46" font-size="15.99" textLength="9" lengthAdjust="spacingAndGlyphs" stroke="#000" stroke-width="0.4">9</text>
<path d="M761.4,718.44 A11.2,15.78 0 0 1 761.4,750" stroke-width="1.3" fill="none" />
<path d="M764.6,719.24 L769.6,721.94 L771.8,726.44 M764.6,749.2 L769.6,746.5 L771.8,742" stroke-width="1" fill="none" />
<text x="752.1" y="737.02" font-size="15.99" textLength="17" lengthAdjust="spacingAndGlyphs" stroke="#000" stroke-width="0.4">10</text>
<text x="735.9" y="424.5" font-size="12.35" textLength="41.9" lengthAdjust="spacingAndGlyphs" stroke="none" text-anchor="start">PL100</text>
<text transform="translate(810.7,619.5) rotate(-90)" x="0" y="0" font-size="18.31" textLength="100" lengthAdjust="spacingAndGlyphs" stroke="none" fill="#444">TO 17MB07</text>
<polyline points="741,449.5 623.6,449.5 623.6,470.9" stroke-width="1.5"/>
<path d="M614.1,470.9 H633.8 M614.1,470.9 l-7,7.5 M623.9,470.9 l-7,7.5 M633.8,470.9 l-7,7.5" stroke-width="1.8" fill="none" />
<path d="M682.5,475.1 L695,482 L682.5,488.9 Z" stroke-width="4" fill="none" stroke-linejoin="round"/>
<line x1="695" y1="482" x2="702.5" y2="482" stroke-width="3"/>
<line x1="702.5" y1="482" x2="741" y2="482" stroke-width="1.5"/>
<text x="641.2" y="486" font-size="11.34" textLength="27.8" lengthAdjust="spacingAndGlyphs" stroke="#000" stroke-width="0.35" text-anchor="start">MUTE</text>
<path d="M682.5,506.7 L695,513.6 L682.5,520.5 Z" stroke-width="4" fill="none" stroke-linejoin="round"/>
<line x1="695" y1="513.6" x2="702.5" y2="513.6" stroke-width="3"/>
<line x1="702.5" y1="513.6" x2="741" y2="513.6" stroke-width="1.5"/>
<text x="637" y="517.6" font-size="11.34" textLength="33.8" lengthAdjust="spacingAndGlyphs" stroke="#000" stroke-width="0.35" text-anchor="start">ST_BY</text>
<path d="M648,537.9 L635,544.8 L648,551.7 Z" stroke-width="4" fill="none" stroke-linejoin="round"/>
<line x1="648" y1="544.8" x2="654" y2="544.8" stroke-width="3"/>
<line x1="654" y1="544.8" x2="741" y2="544.8" stroke-width="1.5"/>
<text x="589.8" y="548.8" font-size="11.34" textLength="34.6" lengthAdjust="spacingAndGlyphs" stroke="#000" stroke-width="0.35" text-anchor="start">+2. 5V</text>
<path d="M648,569.5 L635,576.4 L648,583.3 Z" stroke-width="4" fill="none" stroke-linejoin="round"/>
<line x1="648" y1="576.4" x2="654" y2="576.4" stroke-width="3"/>
<line x1="654" y1="576.4" x2="741" y2="576.4" stroke-width="1.5"/>
<text x="596.5" y="580.4" font-size="11.34" textLength="20.9" lengthAdjust="spacingAndGlyphs" stroke="#000" stroke-width="0.35" text-anchor="start">+8V</text>
<path d="M648,600.9 L635,607.8 L648,614.7 Z" stroke-width="4" fill="none" stroke-linejoin="round"/>
<line x1="648" y1="607.8" x2="654" y2="607.8" stroke-width="3"/>
<line x1="654" y1="607.8" x2="741" y2="607.8" stroke-width="1.5"/>
<text x="589.8" y="611.8" font-size="11.34" textLength="34.6" lengthAdjust="spacingAndGlyphs" stroke="#000" stroke-width="0.35" text-anchor="start">+3. 3V</text>
<path d="M648,664.7 L635,671.6 L648,678.5 Z" stroke-width="4" fill="none" stroke-linejoin="round"/>
<line x1="648" y1="671.6" x2="654" y2="671.6" stroke-width="3"/>
<line x1="654" y1="671.6" x2="741" y2="671.6" stroke-width="1.5"/>
<text x="597" y="675.6" font-size="11.34" textLength="20.6" lengthAdjust="spacingAndGlyphs" stroke="#000" stroke-width="0.35" text-anchor="start">+5V</text>
<circle cx="717.6" cy="607.8" r="2.9" fill="#000" stroke="none"/>
<polyline points="717.6,607.8 717.6,640.2 741,640.2" stroke-width="1.5"/>
<polyline points="741,703 717.6,703 717.6,734 741,734" stroke-width="1.5"/>
<circle cx="717.6" cy="718.4" r="2.9" fill="#000" stroke="none"/>
<polyline points="717.6,718.4 560,718.4 560,798" stroke-width="1.5"/>
<rect x="0" y="815" width="52.7" height="5" fill="#b4b4b4" stroke="none"/>
</svg>
</body></html>
